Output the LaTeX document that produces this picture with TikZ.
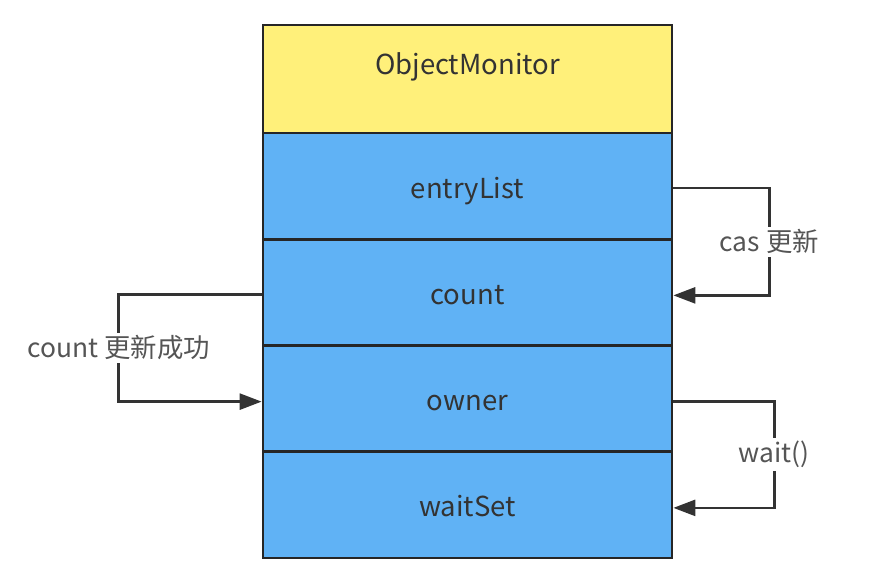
\documentclass[tikz,border=0pt]{standalone}
\usepackage{fontspec}
\setmainfont{Noto Sans CJK SC}
\usetikzlibrary{arrows.meta}
\definecolor{headyellow}{RGB}{255,240,122}
\definecolor{fieldblue}{RGB}{96,178,245}
\definecolor{linegray}{RGB}{51,51,51}
\definecolor{textgray}{RGB}{85,85,85}

\begin{document}
\begin{tikzpicture}[x=0.5pt, y=-0.5pt,
    field/.style={draw=black!85, line width=1.35pt, fill=fieldblue, text=linegray,
        minimum width=204.5pt, minimum height=53.125pt, inner sep=0pt,
        text height=13pt, text depth=1pt,
        font=\fontsize{13.75}{16}\selectfont},
    link/.style={draw=linegray, line width=1.3pt, -{Triangle[length=11pt, width=8pt]}},
    lbl/.style={fill=white, text=textgray, inner sep=1.5pt, font=\fontsize{13.2}{15}\selectfont}]
    \useasboundingbox (0,0) rectangle (872,588);
    \def\top{133}
    \def\h{106.25}

    \node[field, fill=headyellow, minimum height=54pt, text height=3pt, text depth=7pt] (head) at (467.5, 79) {ObjectMonitor};
    \foreach \name/\txt [count=\i] in {entry/entryList, count/count, owner/owner, wait/waitSet} {
        \node[field] (\name) at (467.5, {\top+\h*(\i-0.5)}) {\txt};
    }

    \draw[link] ([yshift=-1pt]count.west) -- ++(-143,0) |- node[pos=0.25, lbl] {count 更新成功} ([yshift=-1.5pt]owner.west);
    \draw[link] ([yshift=-1pt]entry.east) -- ++(96,0) |- node[pos=0.25, lbl] {cas 更新} ([yshift=-1.5pt]count.east);
    \draw[link] ([yshift=-1.5pt]owner.east) -- ++(101,0) |- node[pos=0.25, lbl] {wait()} ([yshift=-1.5pt]wait.east);
\end{tikzpicture}
\end{document}
